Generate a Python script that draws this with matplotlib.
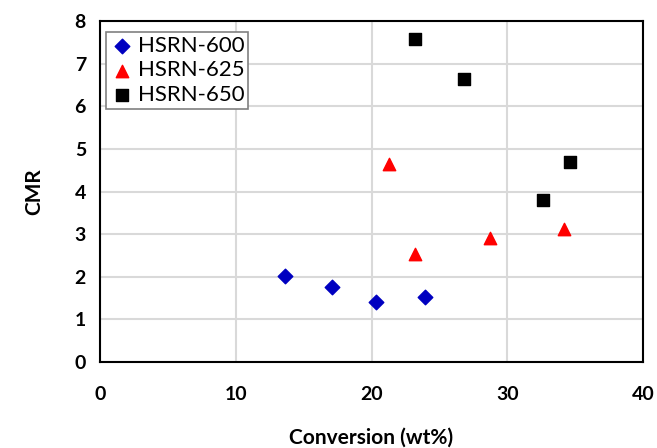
import matplotlib
matplotlib.use('Agg')
import matplotlib.pyplot as plt

plt.rcParams['font.family'] = ['Lato', 'DejaVu Sans']

# data
conv_600 = [13.6, 17.1, 20.3, 23.9]
cmr_600 = [2.01, 1.75, 1.40, 1.53]
conv_625 = [21.3, 23.2, 28.7, 34.2]
cmr_625 = [4.65, 2.53, 2.92, 3.13]
conv_650 = [23.2, 26.8, 32.6, 34.6]
cmr_650 = [7.57, 6.63, 3.81, 4.70]
labels = ['HSRN-600', 'HSRN-625', 'HSRN-650']

fig = plt.figure(figsize=(6.57, 4.48), dpi=100)
ax = fig.add_axes([0.152, 0.192, 0.827, 0.761])

ax.scatter(conv_600, cmr_600, marker='D', s=55, color='#0000c0', label=labels[0], zorder=3)
ax.scatter(conv_625, cmr_625, marker='^', s=80, color='#ff0000', label=labels[1], zorder=3)
ax.scatter(conv_650, cmr_650, marker='s', s=70, color='#000000', label=labels[2], zorder=3)

ax.set_xlim(0, 40)
ax.set_ylim(0, 8)
ax.set_xticks(range(0, 41, 10))
ax.set_yticks(range(0, 9))
ax.grid(True, color='#d9d9d9', linewidth=1.5)
ax.set_axisbelow(True)
ax.tick_params(length=0, labelsize=14, pad=10)
ax.tick_params(axis='x', pad=17)
for lab in ax.get_xticklabels() + ax.get_yticklabels():
    lab.set_fontweight('bold')
for sp in ax.spines.values():
    sp.set_linewidth(1.5)

ax.set_xlabel('Conversion (wt%)', fontsize=15, fontweight='bold', labelpad=18)
ax.set_ylabel('CMR', fontsize=15, fontweight='bold', labelpad=22)

leg = ax.legend(loc='upper left', bbox_to_anchor=(-0.01, 1.0), fontsize=16,
                handletextpad=0.1, borderpad=0.15, labelspacing=0.22,
                handlelength=1.2, fancybox=False, framealpha=1)
leg.get_frame().set_edgecolor('#808080')
leg.get_frame().set_linewidth(1.2)

fig.savefig('out.png', dpi=100)
